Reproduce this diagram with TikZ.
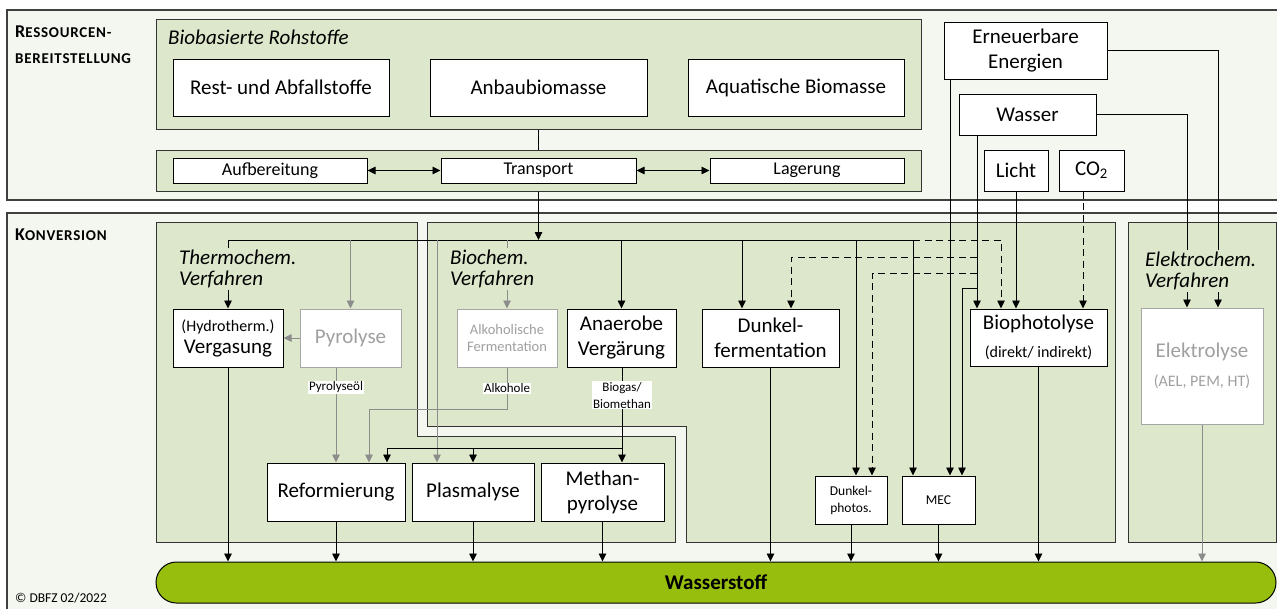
\documentclass[tikz,border=0pt]{standalone}
\usepackage{fontspec}
\setmainfont{Carlito}
\usetikzlibrary{arrows.meta}

\definecolor{frameBg}{HTML}{F4F7EF}
\definecolor{groupBg}{HTML}{DDE7CB}
\definecolor{hydrogen}{HTML}{97BE0D}
\definecolor{flowGray}{HTML}{8C8C8C}
\definecolor{textGray}{HTML}{A0A0A0}

\newcommand{\txtL}{\fontsize{21}{25}\selectfont}
\newcommand{\txtM}{\fontsize{18}{21}\selectfont}
\newcommand{\txtS}{\fontsize{16}{19}\selectfont}
\newcommand{\fakesc}[2]{{\fontsize{18}{20}\selectfont #1}{\fontsize{15}{20}\selectfont\addfontfeature{LetterSpace=5}#2}}

\begin{document}
\begin{tikzpicture}[x=1pt, y=-1pt, >={Triangle[length=8pt,width=7.5pt]},
        outerframe/.style={draw=black!75, fill=frameBg, line width=1.2pt},
        group/.style={draw=black!80, fill=groupBg, line width=1pt},
        proc/.style={draw, fill=white, line width=1pt, inner sep=1pt, align=center, font=\txtL},
        grayproc/.style={proc, draw=black!35, text=textGray},
        wire/.style={line width=0.9pt},
        flow/.style={->, line width=0.9pt},
        grayflow/.style={flow, draw=flowGray},
        opt/.style={flow, dash pattern=on 7pt off 4.5pt},
        tag/.style={fill=white, inner sep=1pt, align=center, font=\fontsize{13}{17}\selectfont},
        grouptitle/.style={fill=groupBg, inner sep=2pt, anchor=north west, align=left, font=\fontsize{21}{21}\selectfont\itshape}]

    % Rahmen
    \useasboundingbox (0,0) rectangle (1277,608);
    \fill[white] (0,0) rectangle (1277,608);
    \draw[outerframe] (7,10) rectangle (1284,200);
    \draw[outerframe] (7,213) rectangle (1284,612);

    \node[anchor=base west, inner sep=0pt, font=\bfseries] (resA) at (15,37.5) {\fakesc{R}{ESSOURCEN-}};
    \node[anchor=base west, inner sep=0pt, font=\bfseries] (resB) at (15,63) {\fakesc{}{BEREITSTELLUNG}};
    \node[anchor=base west, inner sep=0pt, font=\bfseries] (konv) at (15,240) {\fakesc{K}{ONVERSION}};
    \node[anchor=base west, inner sep=0pt, font=\fontsize{13.5}{16}\selectfont] (copy) at (15,602) {© DBFZ 02/2022};

    % Gruppen
    \node[group, minimum width=765pt, minimum height=110pt] (rohstoffe) at (538.5,74) {};
    \node[group, minimum width=765pt, minimum height=41pt] (logistik) at (538.5,170.5) {};
    \draw[group] (156,222) -- (417,222) -- (417,436) -- (675,436) -- (675,542) -- (156,542) -- cycle;
    \draw[group] (427,222) -- (1115,222) -- (1115,542) -- (686,542) -- (686,426) -- (427,426) -- cycle;
    \draw[group] (1128,222) rectangle (1276,542);
    \node[anchor=base west, inner sep=0pt, font=\txtL\itshape] (rohTitle) at (168,44.5) {Biobasierte Rohstoffe};

    \begin{scope}[every node/.style={proc}]
        \node[minimum width=216pt, minimum height=57pt] (rest) at (281,87.5) {Rest- und Abfallstoffe};
        \node[minimum width=217pt, minimum height=57pt] (anbau) at (538.5,87.5) {Anbaubiomasse};
        \node[minimum width=216pt, minimum height=57pt] (aquatisch) at (796,87.5) {Aquatische Biomasse};
        \node[minimum width=194pt, minimum height=25pt, font=\txtM] (aufbereitung) at (270,170.5) {Aufbereitung};
        \node[minimum width=195pt, minimum height=25pt, font=\txtM] (transport) at (538.5,170.5) {Transport};
        \node[minimum width=194pt, minimum height=25pt, font=\txtM] (lagerung) at (807,170.5) {Lagerung};

        \node[minimum width=163pt, minimum height=57pt] (erneuerbar) at (1025.5,50.5) {Erneuerbare\\Energien};
        \node[minimum width=137pt, minimum height=41pt] (wasser) at (1027.5,114.5) {Wasser};
        \node[minimum width=64pt, minimum height=41pt] (licht) at (1016,170.5) {Licht};
        \node[minimum width=65pt, minimum height=41pt] (co2) at (1091.5,170.5) {CO\textsubscript{2}};

        \node[minimum width=110pt, minimum height=58pt, font=\fontsize{21}{22}\selectfont] (vergasung) at (228,338) {{\txtS (Hydrotherm.)}\\Vergasung};
        \node[grayproc, minimum width=101pt, minimum height=58pt] (pyrolyse) at (350.5,338) {Pyrolyse};
        \node[grayproc, minimum width=100pt, minimum height=58pt, font=\fontsize{14.5}{17}\selectfont] (alkohol) at (507,338) {Alkoholische\\Fermentation};
        \node[minimum width=109pt, minimum height=58pt] (anaerob) at (621.5,338) {Anaerobe\\Vergärung};
        \node[minimum width=137pt, minimum height=58pt] (dunkel) at (770.5,338) {Dunkel-\\fermentation};
        \node[minimum width=137pt, minimum height=57pt] (biophot) at (1038.5,337.5) {Biophotolyse\\[3pt]{\txtS (direkt/ indirekt)}};
        \node[grayproc, minimum width=122pt, minimum height=116pt] (elektrolyse) at (1202,366) {Elektrolyse\\[4pt]{\txtS (AEL, PEM, HT)}};

        \node[minimum width=138pt, minimum height=58pt] (reform) at (336,492) {Reformierung};
        \node[minimum width=122pt, minimum height=58pt] (plasmalyse) at (473,492) {Plasmalyse};
        \node[minimum width=123pt, minimum height=58pt] (methan) at (602.5,492) {Methan-\\pyrolyse};
        \node[minimum width=72pt, minimum height=48pt, font=\fontsize{13.5}{17}\selectfont] (dphotos) at (851,500) {Dunkel-\\photos.};
        \node[minimum width=73pt, minimum height=48pt, font=\fontsize{13.5}{17}\selectfont] (mec) at (938.5,500) {MEC};

        \node[fill=hydrogen, rounded corners=20.5pt, minimum width=1120pt, minimum height=41pt, font=\txtL\bfseries] (h2) at (716,582.5) {Wasserstoff};
    \end{scope}

    % Eingaenge
    \coordinate (busL) at (vergasung.north |- 0,240);
    \coordinate (plasmaGray) at ([xshift=-36pt]plasmalyse.north);
    \coordinate (dunkelIn) at ([xshift=-28.5pt]dunkel.north);
    \coordinate (dunkelW) at ([xshift=20.5pt]dunkel.north);
    \coordinate (dpIn) at ([xshift=5pt]dphotos.north);
    \coordinate (dpW) at ([xshift=21pt]dphotos.north);
    \coordinate (mecBus) at ([xshift=-25.5pt]mec.north);
    \coordinate (mecEE) at ([xshift=11.5pt]mec.north);
    \coordinate (mecW) at ([xshift=23.5pt]mec.north);
    \coordinate (bioW) at ([xshift=-61.5pt]biophot.north);
    \coordinate (bioBus) at ([xshift=-37.5pt]biophot.north);
    \coordinate (bioC) at ([xshift=44.5pt]biophot.north);
    \coordinate (elW) at ([xshift=-15pt]elektrolyse.north);
    \coordinate (elEE) at ([xshift=16pt]elektrolyse.north);
    \coordinate (reformA) at ([xshift=33pt]reform.north);
    \coordinate (reformB) at ([xshift=51pt]reform.north);
    \coordinate (methIn) at ([xshift=19.5pt]methan.north);

    \draw[wire] (rohstoffe.south -| anbau) -- (logistik.north -| anbau);
    \draw[<->, wire] (aufbereitung) -- (transport);
    \draw[<->, wire] (transport) -- (lagerung);
    \draw[flow] (logistik.south -| transport) -- (transport |- busL);

    \draw[flow] (busL) -| (mecBus);
    \draw[opt] (mecBus |- busL) -| (bioBus);
    \draw[flow] (busL) -- (vergasung);
    \draw[grayflow] (busL -| pyrolyse) -- (pyrolyse);
    \draw[grayflow] (plasmaGray |- busL) -- (plasmaGray);
    \draw[grayflow] (busL -| alkohol) -- (alkohol);
    \draw[flow] (busL -| anaerob) -- (anaerob);
    \draw[flow] (dunkelIn |- busL) -- (dunkelIn);
    \draw[flow] (dpIn |- busL) -- (dpIn);

    \draw[flow] (erneuerbar.south -| mecEE) -- (mecEE);
    \draw[flow] (erneuerbar.east) -| (elEE);
    \draw[flow] (wasser.east) -| (elW);
    \draw[flow] (wasser.south -| bioW) -- (bioW);
    \draw[opt] (bioW |- 0,257) -| (dunkelW);
    \draw[opt] (bioW |- 0,273) -| (dpW);
    \draw[flow] (bioW |- 0,288) -| (mecW);
    \draw[flow] (licht.south) -- (licht.south |- biophot.north);
    \draw[opt] (co2.south -| bioC) -- (bioC);

    % Zwischenprodukte
    \draw[grayflow] (pyrolyse) -- (vergasung);
    \draw[grayflow] (reform.north |- pyrolyse.south) -- node[tag, pos=0.21] (oilTag) {Pyrolyseöl} (reform.north);
    \draw[grayflow] (alkohol.south) -- node[tag] (alcTag) {Alkohole} (alkohol.south |- 0,409) -| (reformA);
    \draw[flow] (anaerob.south -| methIn) -- node[tag, pos=0.29] (gasTag) {Biogas/\\Biomethan} (methIn);
    \draw[flow] (methIn |- 0,448) -| (reformB);
    \draw[flow] (plasmalyse.north |- 0,448) -- (plasmalyse);

    % Wasserstoff
    \foreach \src in {vergasung,reform,plasmalyse,methan,dunkel,dphotos,mec,biophot}
        \draw[flow] (\src.south) -- (\src.south |- h2.north);
    \draw[grayflow] (elektrolyse.south) -- (elektrolyse.south |- h2.north);

    \node[grouptitle] (thermoTitle) at (177,248) {Thermochem.\\Verfahren};
    \node[grouptitle] (bioTitle) at (448,248) {Biochem.\\Verfahren};
    \node[grouptitle] (elektroTitle) at (1143,250) {Elektrochem.\\Verfahren};
\end{tikzpicture}
\end{document}
